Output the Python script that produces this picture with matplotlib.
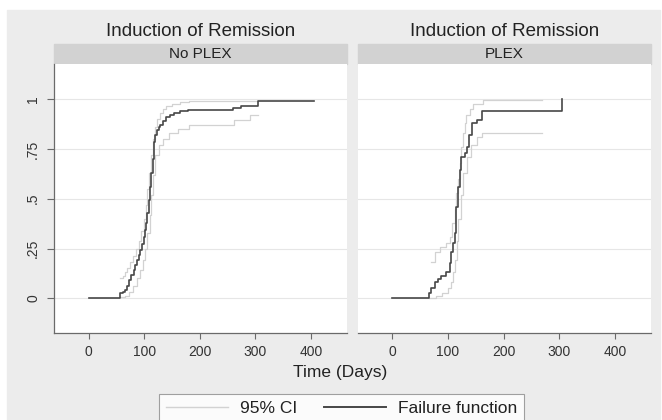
import matplotlib
matplotlib.use('Agg')
import matplotlib.pyplot as plt
from matplotlib.patches import Rectangle
from matplotlib.lines import Line2D

plt.rcParams['font.family'] = ['Liberation Sans', 'DejaVu Sans']

# data (days, cumulative failure)
panels = ['No PLEX', 'PLEX']
nop_t = [0, 57, 62, 65, 69, 72, 76, 81, 84, 87, 90, 93, 96, 99, 102, 104, 106,
         108, 110, 113, 115, 117, 120, 123, 126, 129, 134, 140, 146, 153, 165,
         178, 259, 274, 304, 406]
nop_f = [0, .025, .03, .042, .06, .09, .115, .142, .165, .19, .215, .24, .275,
         .31, .345, .377, .43, .494, .56, .628, .70, .787, .82, .846, .86, .87,
         .89, .913, .92, .93, .94, .946, .955, .965, .993, .993]
nop_up_t = [57, 62, 66, 70, 75, 80, 85, 90, 95, 99, 103, 106, 109, 112, 115,
            119, 123, 128, 134, 140, 150, 165, 180, 304]
nop_up = [.10, .11, .13, .15, .18, .21, .25, .29, .34, .40, .47, .55, .63, .72,
          .80, .86, .90, .93, .95, .965, .975, .985, .99, .99]
nop_lo_t = [57, 65, 72, 80, 87, 93, 98, 102, 106, 110, 113, 116, 120, 126, 133,
            145, 160, 180, 262, 290, 304]
nop_lo = [.005, .01, .03, .06, .10, .14, .19, .25, .33, .42, .52, .62, .72, .77,
          .80, .83, .85, .87, .895, .92, .92]

plex_t = [0, 67, 70, 76, 82, 88, 96, 103, 106, 109, 112, 115, 118, 121, 124,
          130, 134, 138, 143, 152, 161, 305]
plex_f = [0, .025, .05, .083, .095, .11, .134, .176, .234, .28, .327, .46, .56,
          .645, .71, .73, .76, .82, .88, .896, .94, 1.0]
plex_up_t = [70, 76, 85, 97, 104, 108, 112, 115, 118, 121, 124, 127, 130, 133,
             139, 145, 163, 269]
plex_up = [.18, .23, .26, .28, .31, .38, .45, .53, .60, .68, .76, .83, .88, .92,
           .95, .975, .995, .995]
plex_lo_t = [67, 78, 90, 100, 106, 110, 113, 116, 119, 123, 128, 134, 141, 152,
             161, 269]
plex_lo = [.003, .01, .025, .05, .08, .13, .19, .29, .40, .52, .63, .71, .77,
           .81, .83, .83]

xticks = [0, 100, 200, 300, 400]
yticks = [0, .25, .5, .75, 1]
ylabels = ['0', '.25', '.5', '.75', '1']

W, H = 662, 420
fig = plt.figure(figsize=(W / 100, H / 100), dpi=100)
fig.patch.set_facecolor('white')
fig.patches.append(Rectangle((7 / W, 0), 653 / W, 1 - 10 / H,
                             transform=fig.transFigure, color='#ececec', zorder=-5))

CI_C = '#d2d2d2'
F_C = '#474747'
TXT = '#222222'

series = [(nop_t, nop_f, nop_up_t, nop_up, nop_lo_t, nop_lo),
          (plex_t, plex_f, plex_up_t, plex_up, plex_lo_t, plex_lo)]
lefts = [54, 357.7]
for i, (name, s) in enumerate(zip(panels, series)):
    t, f, ut, u, lt, lo = s
    ax = fig.add_axes([lefts[i] / W, 1 - 332.7 / H, 293.3 / W, 268.7 / H])
    ax.set_zorder(2)
    ax.set_facecolor('white')
    ax.set_xlim(-62, 465)
    ax.set_ylim(-0.173, 1.177)
    for y in yticks:
        ax.axhline(y, color='#e6e6e6', lw=0.8, zorder=1)
    ax.step(ut, u, where='post', color=CI_C, lw=0.9, zorder=2)
    ax.step(lt, lo, where='post', color=CI_C, lw=0.9, zorder=2)
    ax.step(t, f, where='post', color=F_C, lw=1.2, zorder=3)
    for sp in ['top', 'right']:
        ax.spines[sp].set_visible(False)
    ax.spines['bottom'].set_color('#6a6a6a')
    ax.spines['bottom'].set_linewidth(0.9)
    ax.set_xticks(xticks)
    ax.tick_params(axis='x', length=4, color='#6a6a6a', labelsize=10,
                   labelcolor='#333333', pad=5)
    if i == 0:
        ax.spines['left'].set_color('#6a6a6a')
        ax.spines['left'].set_linewidth(0.9)
        ax.set_yticks(yticks)
        ax.set_yticklabels(ylabels, rotation=90, va='center')
        ax.tick_params(axis='y', length=5, color='#6a6a6a', labelsize=10,
                       labelcolor='#333333', pad=5)
    else:
        ax.spines['left'].set_visible(False)
        ax.set_yticks(yticks)
        ax.tick_params(axis='y', length=0, labelleft=False)
    # strip and title
    sx = lefts[i] / W
    fig.patches.append(Rectangle((sx, 1 - 64 / H), 293.3 / W, 20 / H,
                                 transform=fig.transFigure, color='#d2d2d2', zorder=1))
    fig.text(sx + 146.6 / W, 1 - 54 / H, name, ha='center', va='center',
             fontsize=11, color=TXT)
    fig.text(sx + 146.6 / W, 1 - 31 / H, 'Induction of Remission', ha='center',
             va='center', fontsize=13.5, color=TXT)

fig.text(340 / W, 1 - 373 / H, 'Time (Days)', ha='center', va='center',
         fontsize=12.5, color=TXT)

handles = [Line2D([], [], color=CI_C, lw=1.0), Line2D([], [], color=F_C, lw=1.4)]
leg = fig.legend(handles, ['95% CI', 'Failure function'], loc='upper left',
                 bbox_to_anchor=(150 / W, 1 - 385 / H), ncol=2, frameon=True,
                 fancybox=False, edgecolor='#8a8a8a', fontsize=12.5,
                 handlelength=3.6, columnspacing=1.5, borderpad=0.4,
                 handletextpad=0.7)
leg.get_frame().set_linewidth(0.8)
for txt in leg.get_texts():
    txt.set_color(TXT)

fig.savefig('out.png', dpi=100, facecolor=fig.get_facecolor())
